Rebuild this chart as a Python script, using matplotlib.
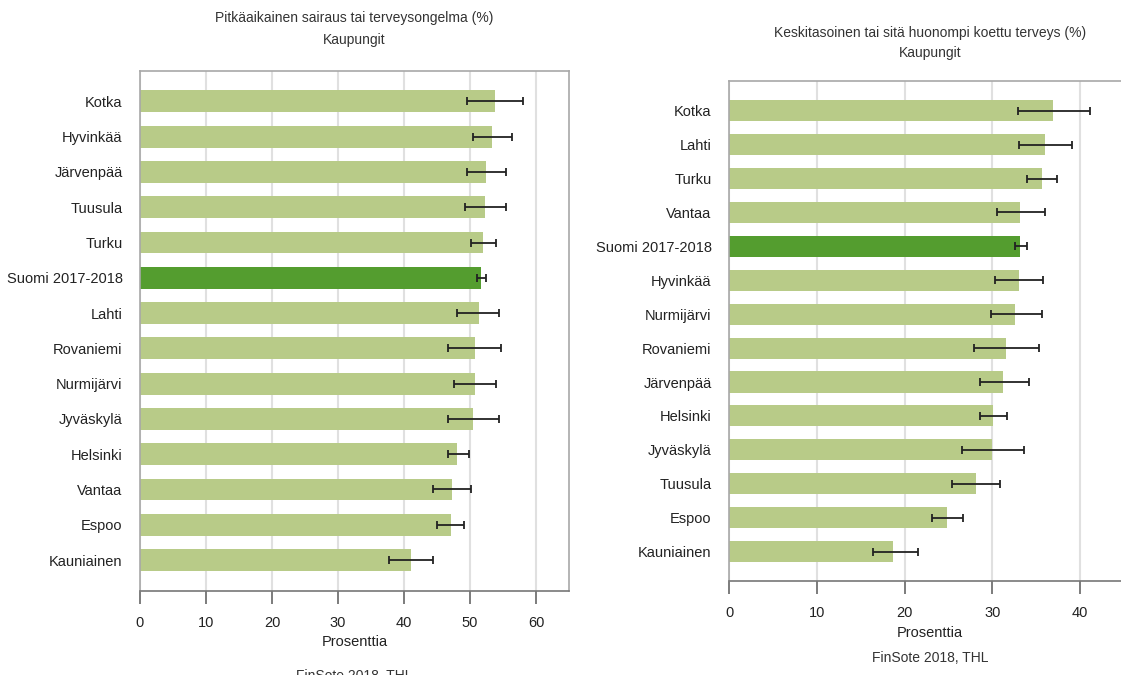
import numpy as np
import matplotlib.pyplot as plt

plt.rcParams['font.family'] = ['Liberation Sans', 'DejaVu Sans']

# vasen kuvio: pitkäaikainen sairaus
left_labels = ["Kotka", "Hyvinkää", "Järvenpää", "Tuusula", "Turku", "Suomi 2017-2018",
               "Lahti", "Rovaniemi", "Nurmijärvi", "Jyväskylä", "Helsinki", "Vantaa",
               "Espoo", "Kauniainen"]
left_vals = [53.8, 53.4, 52.5, 52.3, 52.0, 51.7, 51.3, 50.7, 50.7, 50.5, 48.1, 47.3, 47.1, 41.0]
left_lo = [49.5, 50.5, 49.5, 49.3, 50.2, 51.1, 48.1, 46.7, 47.6, 46.7, 46.6, 44.4, 45.0, 37.8]
left_hi = [58.1, 56.4, 55.5, 55.5, 53.9, 52.4, 54.4, 54.7, 53.9, 54.4, 49.9, 50.2, 49.1, 44.4]

# oikea kuvio: koettu terveys
right_labels = ["Kotka", "Lahti", "Turku", "Vantaa", "Suomi 2017-2018", "Hyvinkää",
                "Nurmijärvi", "Rovaniemi", "Järvenpää", "Helsinki", "Jyväskylä",
                "Tuusula", "Espoo", "Kauniainen"]
right_vals = [36.9, 36.0, 35.6, 33.2, 33.2, 33.0, 32.6, 31.5, 31.2, 30.1, 30.0, 28.1, 24.8, 18.7]
right_lo = [32.9, 33.0, 33.9, 30.5, 32.6, 30.3, 29.8, 27.9, 28.6, 28.6, 26.5, 25.4, 23.1, 16.4]
right_hi = [41.1, 39.1, 37.4, 36.0, 33.9, 35.8, 35.6, 35.3, 34.2, 31.7, 33.6, 30.9, 26.7, 21.5]

light = "#b8cb88"
dark = "#549d2f"


def draw(ax, labels, vals, lo, hi, xmax, ticks):
    y = np.arange(len(labels))
    cols = [dark if l.startswith("Suomi") else light for l in labels]
    ax.barh(y, vals, height=0.62, color=cols, zorder=2)
    vals = np.array(vals)
    err = [vals - np.array(lo), np.array(hi) - vals]
    ax.errorbar(vals, y, xerr=err, fmt="none", ecolor="#222222", elinewidth=1.3,
                capsize=3, capthick=1.3, zorder=3)
    ax.set_yticks(y)
    ax.set_yticklabels(labels, fontsize=10.5, color="#222222")
    ax.set_ylim(len(labels) - 1 + 0.87, -0.87)
    ax.set_xlim(0, xmax)
    ax.set_xticks(ticks)
    ax.tick_params(axis="y", length=0, pad=12.5)
    ax.tick_params(axis="x", length=9, width=1.2, color="#666666", labelsize=10.5,
                   pad=9, labelcolor="#222222")
    ax.grid(axis="x", color="#e0e0e0", linewidth=1.5, zorder=0)
    ax.set_axisbelow(True)
    for s in ax.spines.values():
        s.set_color("#a8a8a8")
        s.set_linewidth(1.2)
    ax.spines["bottom"].set_color("#777777")
    ax.set_xlabel("Prosenttia", fontsize=10.5, color="#222222", labelpad=4)


fig = plt.figure(figsize=(11.21, 6.75), dpi=100)

ax1 = fig.add_axes([140 / 1121, 1 - 590.7 / 675, 429 / 1121, 520 / 675])
draw(ax1, left_labels, left_vals, left_lo, left_hi, 65, [0, 10, 20, 30, 40, 50, 60])

ax2 = fig.add_axes([729 / 1121, 1 - 581 / 675, 402 / 1121, 499.7 / 675])
draw(ax2, right_labels, right_vals, right_lo, right_hi, 402 / 8.78, [0, 10, 20, 30, 40])

fig.text(354 / 1121, 1 - 29 / 675, "Pitkäaikainen sairaus tai terveysongelma (%)\nKaupungit",
         ha="center", va="center", fontsize=10, color="#333333", linespacing=1.65)
fig.text(930 / 1121, 1 - 43 / 675, "Keskitasoinen tai sitä huonompi koettu terveys (%)\nKaupungit",
         ha="center", va="center", fontsize=10, color="#333333", linespacing=1.5)

fig.text(930 / 1121, 1 - 658 / 675, "FinSote 2018, THL", ha="center", va="center",
         fontsize=10, color="#333333")
fig.text(354 / 1121, 1 - 676 / 675, "FinSote 2018, THL", ha="center", va="center",
         fontsize=10, color="#333333")

fig.savefig("out.png", dpi=100)
